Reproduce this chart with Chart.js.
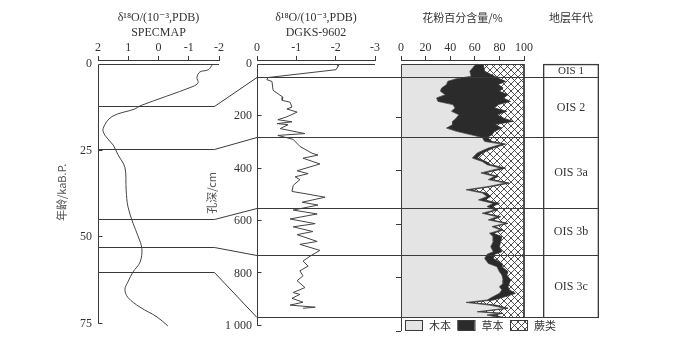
<!DOCTYPE html>
<html>
<head>
<meta charset="utf-8">
<script src="https://cdn.jsdelivr.net/npm/chart.js"></script>
<style>
html, body { margin: 0; padding: 0; background: #fff; }
#wrap { position: relative; width: 700px; height: 338px; }
#wrap canvas { position: absolute; left: 0; top: 0; }
</style>
</head>
<body>
<div id="wrap">
  <canvas id="specmap" width="700" height="338"></canvas>
  <canvas id="dgks" width="700" height="338"></canvas>
  <canvas id="pollen" width="700" height="338"></canvas>
  <canvas id="ois" width="700" height="338"></canvas>
</div>
<script>
// SPECMAP : âge (ka B.P.) / δ18O
const specAge = [0, 1.7, 2.3, 3.9, 5.4, 6.5, 12.1, 13, 15.2, 18.6, 20.6, 23.4, 26.2, 29.9, 36.4, 41.2, 46, 49.6, 53.3, 57.2, 60, 62.9, 65.1, 67.4, 70.2, 73, 75.6];
const specO18 = [-1.80, -1.64, -1.37, -1.27, -1.31, -1.14, 0.61, 0.78, 1.54, 1.83, 1.77, 1.50, 1.34, 1.11, 1.07, 1.01, 0.84, 0.68, 0.55, 0.61, 0.84, 1.01, 1.11, 1.01, 0.61, 0.05, -0.31];
const ageTicks = [0, 25, 50, 75];

// DGKS-9602 : profondeur (cm) / δ18O
const dgksDepth = [2, 9, 22, 52, 60, 67, 101, 127, 139, 146, 165, 172, 184, 202, 213, 221, 228, 232, 247, 266, 273, 288, 315, 341, 348, 360, 382, 408, 419, 431, 442, 464, 487, 494, 509, 528, 539, 558, 573, 592, 610, 622, 640, 652, 678, 689, 712, 734, 753, 772, 790, 809, 828, 854, 873, 880, 895, 910, 921, 929, 933];
const dgksO18 = [-2.06, -2.06, -2.01, -0.28, -0.25, -0.38, -0.41, -0.66, -0.64, -0.84, -0.89, -0.76, -1.02, -0.76, -0.53, -0.89, -0.51, -0.79, -0.59, -1.22, -0.53, -0.92, -1.09, -1.40, -1.55, -1.17, -1.60, -1.02, -1.30, -0.97, -1.09, -0.92, -0.89, -1.17, -1.73, -1.15, -1.55, -0.92, -1.53, -0.84, -1.48, -0.92, -1.42, -1.02, -1.53, -1.09, -1.60, -1.35, -1.17, -1.30, -1.09, -1.17, -1.02, -1.22, -0.92, -1.09, -0.89, -1.17, -0.84, -1.48, -1.17];
const depthTicks = [0, 200, 400, 600, 800, 1000];

// Pollen (%) : arbres, herbes (fougères = reste)
const pollenNames = ['木本', '草本', '蕨类'];
const pollenDepth = [0, 5, 27, 46, 55, 65, 77, 90, 102, 115, 127, 140, 152, 165, 177, 190, 202, 215, 227, 240, 252, 265, 275,
  290, 300, 315, 333, 352, 365, 377, 390, 408, 421, 433, 446, 458, 471, 483, 496, 509, 522, 534,
  547, 559, 572, 584, 597, 609, 622, 634, 647, 665, 684, 703, 713,
  728, 747, 759, 778, 790, 809, 822, 834, 846, 859, 871, 884, 893, 903, 915, 928, 934, 940, 948];
const treePct = [62, 60, 56, 57, 45, 38, 37, 33, 32, 36, 29, 30, 42, 44, 41, 47, 45, 42, 42, 37, 45, 57, 66,
  68, 82, 71, 62, 58, 66, 70, 81, 65, 76, 71, 85, 72, 53, 66, 70, 63, 75, 70,
  76, 66, 78, 71, 85, 74, 81, 72, 75, 75, 73, 75, 70,
  68, 71, 78, 80, 82, 83, 83, 80, 82, 80, 75, 70, 53, 72, 85, 62, 80, 70, 78];
const herbPct = [6, 7, 12, 19, 35, 47, 42, 50, 48, 51, 54, 59, 37, 32, 45, 31, 38, 49, 34, 45, 31, 17, 4,
  6, 3, 4, 4, 4, 3, 3, 4, 3, 3, 3, 3, 3, 3, 3, 3, 5, 5, 4,
  2, 3, 3, 3, 2, 2, 2, 3, 7, 6, 7, 7, 6,
  7, 11, 4, 7, 4, 6, 5, 7, 6, 13, 10, 5, 3, 5, 2, 2, 3, 5, 4];

// Stades isotopiques
const oisNames = ['OIS 1', 'OIS 2', 'OIS 3a', 'OIS 3b', 'OIS 3c'];
const oisTop = [0, 49, 273, 539, 715];
const oisBottom = [49, 273, 539, 715, 948];
const boundaryAge = [12.1, 24.5, 44.8, 52.9, 60];
const boundaryDepth = [49, 273, 539, 715, 948];
const linkBend = -1.85; // fin des traits horizontaux (unités SPECMAP)

const serif = "'Liberation Serif', 'DejaVu Serif', serif";
const cjk = "'Noto Sans CJK SC', sans-serif";
const ink = '#3a3a3a';
const txt = '#333';

// motif croisé pour les fougères
function hatch() {
    const c = document.createElement('canvas');
    c.width = 7; c.height = 7;
    const g = c.getContext('2d');
    g.fillStyle = '#fff';
    g.fillRect(0, 0, 7, 7);
    g.strokeStyle = '#3c3c3c';
    g.lineWidth = 0.9;
    g.beginPath();
    g.moveTo(0, 0); g.lineTo(7, 7);
    g.moveTo(7, 0); g.lineTo(0, 7);
    g.stroke();
    return g.createPattern(c, 'repeat');
}
const fernFill = hatch();

function topAxis(min, max, step, title, titleFont, reverse) {
    return {
        type: 'linear', position: 'top', min: min, max: max, reverse: reverse,
        ticks: { stepSize: step, autoSkip: false, maxRotation: 0, padding: 1, color: txt, font: { family: serif, size: 12 } },
        grid: { drawOnChartArea: false, tickLength: 4, color: ink },
        border: { color: ink },
        title: { display: true, text: title, color: txt, font: titleFont, padding: { top: 11, bottom: 0 } },
        afterFit: s => { s.height = 60; }
    };
}

function depthAxis(width, title, showLabels) {
    return {
        type: 'linear', min: -15, max: 1000, reverse: true,
        afterBuildTicks: s => { s.ticks = (showLabels ? depthTicks : depthTicks.slice(1)).map(v => ({ value: v })); },
        ticks: {
            display: showLabels, padding: 5, color: txt, font: { family: serif, size: 12 },
            callback: v => v === 1000 ? '1 000' : v
        },
        grid: showLabels ? { display: false, drawTicks: false } : { drawOnChartArea: false, tickLength: 5, color: ink },
        border: { display: false },
        title: { display: !!title, text: title, color: '#555', font: { family: cjk, size: 11 }, padding: { top: 4, bottom: 0 } },
        afterFit: s => { s.width = width; }
    };
}

// cadre : axe gauche, trait du haut, graduations internes
const frame = {
    id: 'frame',
    afterDraw(chart, args, opts) {
        const { ctx, chartArea } = chart;
        const y = chart.scales.y;
        const y0 = Math.round(y.getPixelForValue(0)) + 0.5;
        const y1 = y.getPixelForValue(opts.bottom);
        const left = chartArea.left + 0.5;
        ctx.save();
        ctx.strokeStyle = ink;
        ctx.lineWidth = 1;
        ctx.beginPath();
        ctx.moveTo(left, y1);
        ctx.lineTo(left, y0);
        ctx.lineTo(chartArea.right, y0);
        if (opts.inTicks) {
            y.ticks.forEach(t => {
                if (t.value === 0) return;
                const p = Math.round(y.getPixelForValue(t.value)) - 0.5;
                ctx.moveTo(left, p);
                ctx.lineTo(left + 4, p);
            });
        }
        ctx.stroke();
        ctx.restore();
    }
};

const baseOptions = (padding) => ({
    responsive: false,
    animation: false,
    devicePixelRatio: 1,
    layout: { padding: padding },
    plugins: { legend: { display: false }, tooltip: { enabled: false } }
});

// -------------------- SPECMAP
const specOpts = baseOptions({ left: 51, right: 481, top: 0, bottom: 7 });
specOpts.indexAxis = 'y';
specOpts.plugins.frame = { bottom: 75, inTicks: true };
specOpts.scales = {
    x: topAxis(-2, 2, 1, ['δ¹⁸O/(10⁻³,PDB)', 'SPECMAP'], { family: serif, size: 12 }, true),
    y: {
        type: 'linear', min: -1.13, max: 75.28, reverse: true,
        afterBuildTicks: s => { s.ticks = ageTicks.map(v => ({ value: v })); },
        ticks: { padding: 6, color: txt, font: { family: serif, size: 12 } },
        grid: { display: false, drawTicks: false },
        border: { display: false },
        title: { display: true, text: '年龄/kaB.P.', color: '#555', font: { family: cjk, size: 11 }, padding: { top: 4, bottom: 0 } },
        afterFit: s => { s.width = 47; }
    }
};
const specChart = new Chart(document.getElementById('specmap'), {
    type: 'line',
    data: {
        datasets: [{
            data: specAge.map((a, i) => ({ x: specO18[i], y: a })),
            borderColor: '#444', borderWidth: 1, pointRadius: 0, tension: 0.35, clip: false
        }]
    },
    options: specOpts,
    plugins: [frame]
});

// -------------------- DGKS-9602
const dgksOpts = baseOptions({ left: 201, right: 325, top: 0, bottom: 7 });
dgksOpts.indexAxis = 'y';
dgksOpts.plugins.frame = { bottom: 1000, inTicks: true };
dgksOpts.scales = {
    x: topAxis(-3, 0, 1, ['δ¹⁸O/(10⁻³,PDB)', 'DGKS-9602'], { family: serif, size: 12 }, true),
    y: depthAxis(56, '孔深/cm', true)
};
const dgksChart = new Chart(document.getElementById('dgks'), {
    type: 'line',
    data: {
        datasets: [{
            data: dgksDepth.map((d, i) => ({ x: dgksO18[i], y: d })),
            borderColor: '#444', borderWidth: 1, pointRadius: 0, tension: 0
        }]
    },
    options: dgksOpts,
    plugins: [frame]
});

// -------------------- Pollen
const pollenLegend = {
    id: 'pollenLegend',
    afterDraw(chart) {
        const { ctx, chartArea } = chart;
        const fills = chart.data.datasets.map(ds => ds.backgroundColor);
        const top = chartArea.bottom - 11;
        ctx.save();
        ctx.font = '11px ' + cjk;
        ctx.textBaseline = 'middle';
        ctx.fillStyle = txt;
        pollenNames.forEach((name, i) => {
            const x = chartArea.left + 4 + i * 52.5;
            ctx.fillStyle = fills[i];
            ctx.fillRect(x, top, 17, 10);
            ctx.strokeStyle = ink;
            ctx.lineWidth = 1;
            ctx.strokeRect(x + 0.5, top + 0.5, 17, 10);
            ctx.fillStyle = txt;
            ctx.fillText(name, x + 24, top + 5.5);
        });
        ctx.restore();
    }
};

const treeEdge = pollenDepth.map((d, i) => ({ x: treePct[i], y: d }));
const herbEdge = pollenDepth.map((d, i) => ({ x: treePct[i] + herbPct[i], y: d }));
const fernEdge = pollenDepth.map((d, i) => ({ x: treePct[i] + herbPct[i] + (100 - treePct[i] - herbPct[i]), y: d }));

const pollenOpts = baseOptions({ left: 395, right: 176, top: 0, bottom: 7 });
pollenOpts.indexAxis = 'y';
pollenOpts.plugins.frame = { bottom: 1000, inTicks: false };
pollenOpts.scales = {
    x: topAxis(0, 100, 20, '花粉百分含量/%', { family: cjk, size: 11 }, false),
    y: depthAxis(6, '', false)
};
new Chart(document.getElementById('pollen'), {
    type: 'line',
    data: {
        datasets: [
            { data: treeEdge, backgroundColor: '#e4e4e4', borderColor: ink, borderWidth: 0.8, fill: { value: 0 }, pointRadius: 0, tension: 0 },
            { data: herbEdge, backgroundColor: '#2b2b2b', borderColor: '#2b2b2b', borderWidth: 0.8, fill: '-1', pointRadius: 0, tension: 0 },
            { data: fernEdge, backgroundColor: fernFill, borderColor: ink, borderWidth: 1, fill: '-1', pointRadius: 0, tension: 0, clip: false }
        ]
    },
    options: pollenOpts,
    plugins: [frame, pollenLegend]
});

// -------------------- Stades OIS + traits de corrélation
const oisLabels = {
    id: 'oisLabels',
    afterDatasetsDraw(chart) {
        const ctx = chart.ctx;
        ctx.save();
        ctx.fillStyle = txt;
        ctx.textAlign = 'center';
        ctx.textBaseline = 'middle';
        chart.data.datasets.forEach((ds, i) => {
            const bar = chart.getDatasetMeta(i).data[0];
            ctx.font = (i === 0 ? '11px ' : '12px ') + serif;
            ctx.fillText(oisNames[i], bar.x, (bar.y + bar.base) / 2 + 0.5);
        });
        ctx.restore();
    }
};

const links = {
    id: 'links',
    afterDraw(chart) {
        const ctx = chart.ctx;
        const ax = specChart.scales.x, ay = specChart.scales.y;
        ctx.save();
        ctx.strokeStyle = ink;
        ctx.lineWidth = 1;
        boundaryAge.forEach((age, i) => {
            const ya = Math.round(ay.getPixelForValue(age)) + 0.5;
            const yd = Math.round(chart.scales.y.getPixelForValue(boundaryDepth[i])) + 0.5;
            ctx.beginPath();
            ctx.moveTo(specChart.chartArea.left, ya);
            ctx.lineTo(ax.getPixelForValue(linkBend), ya);
            ctx.lineTo(dgksChart.chartArea.left, yd);
            ctx.lineTo(chart.chartArea.right, yd);
            ctx.stroke();
        });
        ctx.restore();
    }
};

const oisOpts = baseOptions({ left: 543, right: 101, top: 0, bottom: 7 });
oisOpts.datasets = { bar: { grouped: false, barPercentage: 1, categoryPercentage: 1 } };
oisOpts.scales = {
    x: {
        type: 'category', position: 'top',
        ticks: { display: false },
        grid: { display: false, drawTicks: false },
        border: { display: false },
        title: { display: true, text: '地层年代', color: txt, font: { family: cjk, size: 11 }, padding: { top: 11, bottom: 0 } },
        afterFit: s => { s.height = 60; }
    },
    y: { type: 'linear', min: -15, max: 1000, reverse: true, display: false }
};
new Chart(document.getElementById('ois'), {
    type: 'bar',
    data: {
        labels: ['OIS'],
        datasets: oisNames.map((n, i) => ({
            label: n,
            data: [[oisTop[i], oisBottom[i]]],
            backgroundColor: 'rgba(255,255,255,0)',
            borderColor: ink,
            borderWidth: { left: 1, right: 1, top: i === 0 ? 1 : 0, bottom: 0 },
            borderSkipped: false
        }))
    },
    options: oisOpts,
    plugins: [oisLabels, links]
});
</script>
</body>
</html>
